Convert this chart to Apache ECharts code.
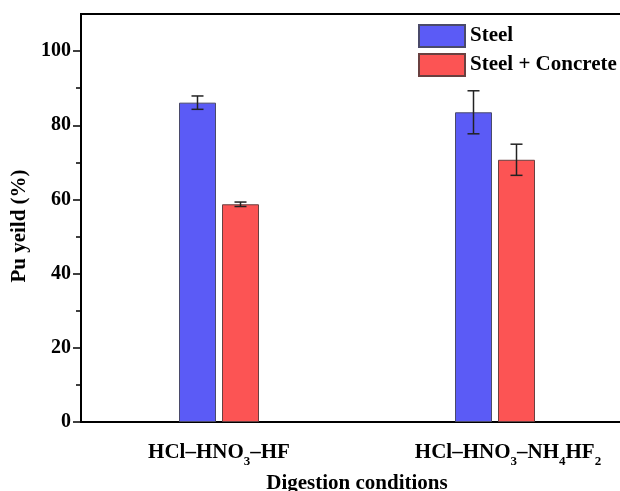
<!DOCTYPE html>
<html>
<head>
<meta charset="utf-8">
<script src="https://cdn.jsdelivr.net/npm/echarts@6/dist/echarts.min.js"></script>
<style>
    html, body { margin: 0; padding: 0; background: #fff; }
    #chart { width: 620px; height: 491px; }
</style>
</head>
<body>
<div id="chart"></div>
<script>
// data
const categories = ['HCl–HNO3–HF', 'HCl–HNO3–NH4HF2'];
const steel = [86.1, 83.5];
const steelErr = [1.8, 5.8];
const concrete = [58.7, 70.7];
const concreteErr = [0.6, 4.2];
const yTicks = [0, 20, 40, 60, 80, 100];
const yMinorTicks = [10, 30, 50, 70, 90];

const FONT = 'Liberation Serif';
const BAR_W = 37;
const BAR_GAP = 6;

// digits in the formulas become subscripts
function formula(text, index) {
    // the second label sits a little right of its tick in the original
    const lead = index === 1 ? '{p| }' : '';
    return lead + '{n|' + text.replace(/(\d)/g, '}{s|$1}{n|') + '}';
}

function errorSeries(name, values, errs, side) {
    return {
        name: name,
        type: 'custom',
        data: values.map((v, i) => [i, v - errs[i], v + errs[i]]),
        z: 10,
        renderItem: function (params, api) {
            const lo = api.coord([api.value(0), api.value(1)]);
            const hi = api.coord([api.value(0), api.value(2)]);
            const x = lo[0] + side * (BAR_W + BAR_GAP) / 2;
            const cap = 6;
            const style = { stroke: '#222', lineWidth: 1.5 };
            return {
                type: 'group',
                children: [
                    { type: 'line', shape: { x1: x, y1: hi[1], x2: x, y2: lo[1] }, style: style },
                    { type: 'line', shape: { x1: x - cap, y1: hi[1], x2: x + cap, y2: hi[1] }, style: style },
                    { type: 'line', shape: { x1: x - cap, y1: lo[1], x2: x + cap, y2: lo[1] }, style: style }
                ]
            };
        }
    };
}

var myChart = echarts.init(document.getElementById('chart'));
var option = {
    animation: false,
    textStyle: { fontFamily: FONT },
    grid: {
        left: 81,
        top: 14,
        right: -13,
        bottom: 69,
        outerBoundsMode: 'none',
        show: true,
        borderColor: '#000',
        borderWidth: 2
    },
    legend: {
        data: ['Steel', 'Steel + Concrete'],
        orient: 'vertical',
        left: 418,
        top: 24,
        padding: 0,
        icon: 'rect',
        itemWidth: 46,
        itemHeight: 22,
        itemGap: 5,
        textStyle: { fontFamily: FONT, fontSize: 21, fontWeight: 'bold', color: '#000' }
    },
    xAxis: {
        type: 'category',
        data: categories,
        name: 'Digestion conditions',
        nameLocation: 'middle',
        nameGap: 51,
        nameTextStyle: { fontFamily: FONT, fontSize: 21, fontWeight: 'bold', color: '#000' },
        axisLine: { lineStyle: { color: '#000', width: 2 } },
        axisTick: { alignWithLabel: true, length: 7, lineStyle: { color: '#000', width: 1.5 } },
        axisLabel: {
            interval: 0,
            hideOverlap: false,
            margin: 16,
            formatter: function (value, index) { return formula(value, index); },
            rich: {
                n: { fontFamily: FONT, fontSize: 21, fontWeight: 'bold', color: '#000', lineHeight: 30 },
                s: { fontFamily: FONT, fontSize: 13, fontWeight: 'bold', color: '#000', lineHeight: 15, verticalAlign: 'bottom' },
                p: { width: 26, lineHeight: 30 }
            }
        },
        splitLine: { show: false }
    },
    yAxis: [
        {
            type: 'value',
            min: 0,
            max: 110,
            name: 'Pu yeild (%)',
            nameLocation: 'middle',
            nameGap: 39,
            nameTextStyle: { fontFamily: FONT, fontSize: 21, fontWeight: 'bold', color: '#000', padding: [0, 16, 0, 0] },
            axisLine: { show: true, lineStyle: { color: '#000', width: 2 } },
            axisTick: { show: true, customValues: yTicks, length: 8, lineStyle: { color: '#000', width: 1.5 } },
            axisLabel: {
                customValues: yTicks,
                margin: 10,
                fontFamily: FONT,
                fontSize: 20,
                fontWeight: 'bold',
                color: '#000'
            },
            splitLine: { show: false }
        },
        {
            type: 'value',
            min: 0,
            max: 110,
            position: 'left',
            axisLine: { show: false },
            axisTick: { show: true, customValues: yMinorTicks, length: 5, lineStyle: { color: '#000', width: 1.5 } },
            axisLabel: { show: false },
            splitLine: { show: false }
        }
    ],
    series: [
        {
            name: 'Steel',
            type: 'bar',
            data: steel,
            barWidth: BAR_W,
            barGap: (BAR_GAP / BAR_W * 100) + '%',
            itemStyle: { color: '#5b5bf6', borderColor: '#4a4a6a', borderWidth: 1 }
        },
        {
            name: 'Steel + Concrete',
            type: 'bar',
            data: concrete,
            barWidth: BAR_W,
            itemStyle: { color: '#fc5454', borderColor: '#6a4040', borderWidth: 1 }
        },
        errorSeries('Steel', steel, steelErr, -1),
        errorSeries('Steel + Concrete', concrete, concreteErr, 1)
    ]
};
myChart.setOption(option);
</script>
</body>
</html>
